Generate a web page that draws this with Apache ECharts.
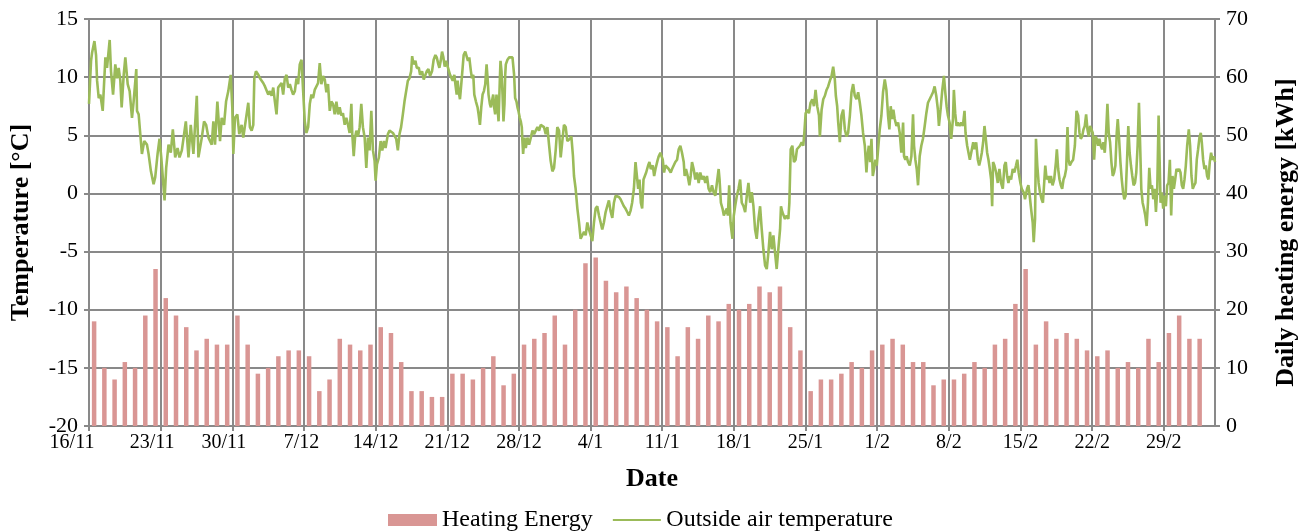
<!DOCTYPE html>
<html>
<head>
<meta charset="utf-8">
<script src="https://cdn.jsdelivr.net/npm/echarts@6/dist/echarts.min.js"></script>
<style>
html,body{margin:0;padding:0;background:#fff;}
#chart{width:1309px;height:532px;}
</style>
</head>
<body>
<div id="chart"></div>
<script>
// Tick labels, one every 7 days starting 16/11
const tickLabels = ['16/11','23/11','30/11','7/12','14/12','21/12','28/12','4/1','11/1','18/1','25/1','1/2','8/2','15/2','22/2','29/2'];

// Daily heating energy [kWh], one value per day starting 16/11
const heatingEnergy = [
  18,10,8,11,10,19,27,22,19,17,13,15,14,14,19,14,9,10,12,13,13,12,6,8,15,14,13,14,
  17,16,11,6,6,5,5,9,9,8,10,12,7,9,14,15,16,19,14,20,28,29,25,23,24,22,20,
  18,17,12,17,15,19,18,21,20,21,24,23,24,17,13,6,8,8,9,11,10,13,14,15,14,11,11,
  7,8,8,9,11,10,14,15,21,27,14,18,15,16,15,13,12,13,10,11,10,15,11,16,19,15,15
];

// Outside air temperature readings: [days since 16/11, temperature °C]
const outsideTemp = [
[0,7.7],[0.2,11.4],[0.3,12.1],[0.53,13.1],[0.69,11.9],[0.79,9.7],[0.95,8.2],[1.11,8.5],[1.34,7.1],[1.6,11.7],
[1.76,10.8],[2.02,13.2],[2.15,10.5],[2.35,8.5],[2.57,11.1],[2.74,9.9],[2.9,10.8],[3.06,9.7],[3.19,7.4],[3.39,10.2],
[3.55,11.7],[3.78,9.4],[3.97,8.8],[4.2,6.5],[4.36,7.9],[4.62,10.7],[4.69,7.1],[4.85,6.8],[5.01,5.1],[5.17,3.4],
[5.4,4.5],[5.66,4.2],[5.82,3.4],[6.05,1.9],[6.31,0.8],[6.47,1.4],[6.7,3.4],[6.89,4.7],[7.06,3.1],[7.38,-0.6],
[7.54,2.2],[7.77,4.2],[7.99,3.5],[8.19,5.5],[8.42,3.1],[8.65,3.9],[8.84,3.1],[9.07,3.7],[9.46,6.2],[9.72,3.1],
[9.94,5.9],[10.2,3.4],[10.53,8.4],[10.69,3.1],[11.02,4.8],[11.24,6.2],[11.44,5.9],[11.67,4.8],[11.99,4.2],[12.15,6.2],
[12.31,4.2],[12.54,7.9],[12.8,4.5],[12.96,6.5],[13.19,5.9],[13.39,7.9],[13.61,8.8],[13.84,10.2],[14.0,7.4],[14.1,3.4],
[14.26,6.5],[14.49,6.8],[14.68,5.1],[14.91,5.9],[15.07,4.8],
[15.56,7.8],[15.72,5.7],[15.89,5.4],[16.05,5.9],[16.15,9.9],[16.31,10.5],[16.54,10.2],[16.7,9.9],[16.86,9.8],[17.02,9.5],
[17.19,9.2],[17.35,9.1],[17.51,8.5],[17.67,8.8],[17.84,8.4],[18.0,9.1],[18.16,7.9],[18.32,6.8],[18.48,9.1],[18.65,9.2],
[18.81,9.5],[18.97,8.5],[19.13,9.9],[19.3,10.2],[19.46,9.1],[19.62,9.4],[19.78,8.9],[19.94,8.5],[20.11,8.8],[20.27,9.9],
[20.43,9.4],[20.59,11.1],[20.76,11.5],[20.92,8.8],[21.08,6.2],[21.24,5.2],[21.41,5.7],[21.57,7.7],[21.73,8.5],[21.89,8.2],
[22.05,8.9],[22.22,8.8],[22.38,9.5],[22.54,11.2],[22.7,9.4],[22.87,10.1],[23.03,9.8],[23.19,8.7],[23.35,9.4],[23.52,7.1],
[23.68,7.9],[23.84,7.7],[24.0,6.8],[24.17,7.9],[24.33,6.8],[24.49,7.4],[24.65,6.7],[24.81,6.9],[24.98,5.9],[25.14,6.5],
[25.3,5.9],[25.46,5.2],[25.63,7.7],[25.72,5.1],[25.86,3.2],[25.99,4.8],[26.12,5.4],[26.28,4.9],[26.44,5.7],[26.6,7.7],
[26.76,5.7],[26.93,4.8],[27.09,2.2],[27.25,4.8],[27.41,3.7],[27.58,7.1],[27.74,3.7],[27.9,2.8],[28.0,1.1],[28.13,2.5],
[28.32,3.1],[28.49,4.5],[28.65,3.7],[28.81,4.5],[28.97,3.9],[29.2,5.1],[29.36,5.4],[29.69,5.2],[29.85,5.1],[30.01,4.7],
[30.17,3.7],[30.33,5.1],[30.49,5.7],[30.66,6.8],[30.82,7.9],
[31.15,9.7],[31.31,9.9],[31.47,10.5],[31.57,11.8],[31.7,11.1],[31.89,11.4],[32.02,10.8],[32.22,10.8],[32.34,10.2],[32.54,10.5],
[32.7,9.8],[32.83,9.7],[32.99,10.5],[33.16,10.7],[33.32,10.1],[33.51,10.5],[33.67,11.5],[33.84,11.9],[33.97,11.7],[34.13,11.1],
[34.23,10.8],[34.36,11.4],[34.49,12.2],[34.62,11.7],[34.75,10.9],[34.88,11.4],[35.04,10.9],[35.14,10.8],[35.27,10.2],[35.43,10.1],
[35.53,9.7],[35.69,10.2],[35.79,9.4],[35.92,8.5],[36.01,9.7],[36.11,8.8],[36.24,8.1],[36.34,9.1],[36.5,10.8],[36.6,11.9],
[36.76,12.2],[36.89,12.1],[37.02,11.4],[37.15,11.7],[37.31,10.5],[37.41,9.9],[37.54,10.2],[37.64,8.5],[37.8,7.9],[37.96,7.4],
[38.06,6.8],[38.19,5.9],[38.32,7.4],[38.45,8.5],[38.58,8.8],[38.71,9.4],[38.84,11.1],[38.94,9.9],[39.03,8.5],[39.16,7.7],
[39.26,7.4],[39.36,7.9],[39.49,8.5],[39.58,7.4],[39.68,6.8],[39.81,8.5],[39.91,7.4],[40.01,6.2],[40.14,9.9],[40.2,11.4],
[40.3,10.5],[40.4,8.5],[40.49,6.2],[40.59,7.7],[40.66,10.2],[40.72,11.1],[40.88,11.5],[41.05,11.7],[41.21,11.8],[41.37,11.7],
[41.53,10.2],[41.63,8.2],[41.76,7.9],[41.86,7.4],[41.95,7.1],[42.08,6.5],[42.18,6.2],[42.28,5.7],[42.34,4.5],[42.41,3.4],
[42.54,4.8],[42.67,3.9],[42.83,4.8],[42.99,4.2],[43.16,4.8],[43.32,5.4],[43.48,5.1],[43.64,5.4],[43.81,5.7],[43.97,5.4],
[44.13,5.9],[44.29,5.8],[44.45,5.7],[44.62,5.1],[44.78,5.7],[44.94,4.2],[45.1,2.8],[45.27,1.9],[45.43,2.2],[45.59,3.7],
[45.75,5.7],[45.92,5.4],[46.08,3.1],[46.24,4.5],[46.4,5.9],[46.57,5.7],[46.73,4.5],
[46.99,4.7],[47.12,4.9],[47.28,3.2],[47.38,1.5],[47.54,0.4],[47.71,-1.3],[47.87,-2.5],[48.03,-3.9],[48.19,-3.9],[48.36,-3.3],
[48.52,-3.6],[48.68,-2.5],[48.84,-3.1],[49.01,-3.6],[49.17,-4.1],[49.33,-2.5],[49.49,-1.3],[49.65,-1.1],[49.82,-1.9],[49.98,-2.5],
[50.14,-3.1],[50.3,-2.5],[50.47,-1.6],[50.63,-1.1],[50.79,-0.6],[50.95,-1.5],[51.12,-2.1],[51.28,-0.8],[51.44,-0.2],[51.6,-0.1],
[51.77,-0.3],[51.93,-0.5],[52.09,-0.8],[52.25,-1.1],[52.41,-1.3],[52.58,-1.6],[52.74,-1.9],[52.9,-1.5],[53.06,-0.8],[53.23,0.4],
[53.39,2.7],[53.49,1.8],[53.65,0.4],[53.78,1.2],[53.91,-0.8],[54.04,-1.3],[54.17,1.2],[54.3,1.5],[54.43,1.8],[54.62,2.4],
[54.75,2.7],[54.88,2.1],[55.08,2.4],[55.21,1.5],[55.34,2.1],[55.53,2.8],[55.66,3.2],[55.82,3.5],[55.92,3.4],[56.05,2.9],
[56.18,1.8],[56.31,2.4],[56.47,2.4],[56.64,2.1],[56.83,1.8],[56.96,2.1],[57.12,2.2],[57.28,2.7],[57.45,2.9],[57.61,3.8],
[57.77,4.1],[57.93,3.5],[58.1,2.7],[58.19,1.5],[58.32,2.1],[58.49,1.5],[58.65,0.7],[58.78,1.5],[58.91,2.7],[59.07,2.1],
[59.23,1.2],[59.4,1.8],[59.56,0.9],[59.72,1.8],[59.88,1.2],[60.04,1.5],[60.21,0.9],[60.37,1.5],[60.53,0.4],[60.69,0.1],
[60.86,0.7],[61.02,0.1],[61.18,-0.2],[61.34,0.9],[61.51,2.1],[61.6,1.2],[61.73,-0.8],[61.89,-1.3],[62.02,-1.9],[62.15,-1.6],
[62.31,-1.3],[62.41,-1.9],[62.54,0.7],[62.67,-2.5],[62.86,-3.9],[62.99,-1.9],[63.12,-1.1],[63.29,-0.2],[63.45,0.4],[63.61,1.2],
[63.77,-0.8],[63.94,-1.1],[64.1,-1.6],[64.26,-0.2],[64.42,0.9],[64.59,-0.8],[64.75,0.1],[64.91,-1.1],[65.07,-3.1],[65.23,-3.9],
[65.4,-2.2],[65.56,-1.1],[65.72,-3.1],[65.88,-4.8],[66.05,-6.2],[66.21,-6.5],[66.37,-5.1],[66.53,-3.3],[66.7,-4.8],[66.86,-3.6],
[67.02,-5.1],[67.18,-6.5],[67.34,-4.8],[67.51,-3.1],[67.6,-1.1],[67.73,-1.6],[67.86,-1.9],[67.99,-2.2],[68.16,-1.9],[68.32,-2.2],
[68.42,-0.8],[68.55,3.8],[68.71,4.1],[68.87,2.7],[69.03,2.9],[69.16,3.8],[69.29,3.8],[69.46,4.1],[69.62,4.4],[69.78,4.1],
[69.88,5.2],[70.01,6.9],[70.17,7.2],[70.33,6.9],[70.49,7.8],[70.66,8.1],[70.82,7.5],[70.98,8.9],[71.14,7.5],[71.31,6.7],
[71.4,4.9],[71.57,7.2],[71.73,8.1],[71.89,8.4],[72.05,8.9],[72.21,9.2],[72.38,9.7],[72.54,10.1],[72.7,10.9],[72.86,9.8],
[72.96,8.4],[73.09,7.5],[73.19,6.1],[73.35,4.4],[73.51,6.7],[73.68,7.2],[73.84,5.5],[74.0,4.9],[74.16,5.2],[74.33,6.7],
[74.49,8.7],[74.65,9.4],[74.81,8.4],[74.97,8.1],[75.14,8.7],[75.3,7.8],[75.46,6.7],[75.62,5.2],[75.79,4.1],[75.95,1.8],
[76.05,3.2],[76.18,4.1],[76.31,2.7],[76.44,4.7],[76.57,1.5],[76.7,2.1],[76.83,2.9],[76.96,2.4],[77.09,3.8],[77.25,5.5],
[77.41,6.7],[77.57,8.7],[77.74,9.8],[77.9,8.9],[78.06,6.7],[78.19,5.5],[78.32,7.5],[78.45,6.4],[78.58,7.2],[78.71,6.4],
[78.88,5.8],[79.04,6.1],[79.2,5.2],[79.36,3.5],[79.53,6.1],[79.62,3.2],[79.75,2.9],[79.88,3.2],[80.01,2.7],[80.18,2.4],
[80.34,3.2],[80.5,6.8],[80.6,4.1],[80.73,2.9],[80.86,2.1],[80.99,0.7],[81.15,3.2],[81.31,4.1],[81.47,4.7],[81.64,5.8],
[81.8,6.9],[81.96,7.8],[82.12,7.9],[82.29,8.4],[82.45,8.7],[82.61,9.2],[82.77,8.4],[82.93,7.2],[83.03,5.8],[83.19,7.2],
[83.36,8.9],[83.52,10.1],[83.65,8.7],[83.78,7.5],[83.91,6.7],[84.07,6.1],[84.23,4.7],[84.4,6.4],[84.49,8.9],[84.62,6.9],
[84.75,5.8],[84.88,6.1],[85.05,5.8],[85.21,6.1],[85.37,5.8],[85.53,7.1],[85.63,5.2],[85.79,4.1],[85.92,3.5],[86.05,2.9],
[86.25,3.8],[86.38,4.4],[86.51,3.8],[86.67,4.4],[86.83,2.9],[86.96,2.4],[87.09,2.9],[87.22,3.5],[87.35,4.4],[87.48,5.8],
[87.61,4.7],[87.74,3.5],[87.87,2.9],[88.0,2.1],[88.13,1.2],[88.23,-1.1],[88.32,2.7],[88.45,2.4],[88.62,1.8],[88.78,0.9],
[88.94,2.1],[89.1,0.9],[89.27,0.4],[89.43,2.4],[89.56,2.7],[89.69,1.5],[89.82,0.9],[89.95,1.5],[90.08,1.2],[90.24,2.1],
[90.4,1.8],[90.56,2.4],[90.69,2.9],[90.82,1.8],[90.99,0.9],[91.12,0.4],[91.31,0.1],[91.44,-0.5],[91.64,0.4],[91.77,0.7],
[91.9,-0.2],[92.03,-1.3],[92.19,-2.5],[92.29,-4.2],[92.42,-2.2],[92.51,4.7],[92.64,2.4],[92.77,0.9],[92.9,0.1],[93.06,-0.5],
[93.19,-0.8],
[93.42,2.4],[93.55,1.2],[93.71,1.5],[93.84,0.9],[93.97,1.5],[94.13,0.7],[94.29,1.2],[94.46,2.7],[94.55,3.8],[94.68,2.1],
[94.81,1.2],[94.94,0.7],[95.07,0.4],[95.2,1.2],[95.33,1.5],[95.46,2.1],[95.59,5.7],[95.69,2.9],[95.82,2.4],[95.98,2.7],
[96.14,2.9],[96.31,4.1],[96.47,7.1],[96.63,6.7],[96.76,5.2],[96.89,4.7],[97.02,4.9],[97.15,5.5],[97.28,5.8],[97.41,6.8],
[97.54,5.5],[97.67,4.9],[97.8,5.8],[97.93,5.5],[98.06,5.2],[98.19,2.9],[98.32,4.9],[98.45,4.7],[98.58,4.1],[98.71,4.7],
[98.84,4.1],[98.97,3.8],[99.1,4.4],[99.23,3.5],[99.36,5.2],[99.49,7.7],[99.62,5.2],[99.75,4.4],[99.88,2.7],[100.01,1.5],
[100.14,1.8],[100.27,2.4],[100.4,5.2],[100.5,6.4],[100.63,4.7],[100.76,2.7],[100.89,1.2],[101.02,0.1],[101.14,-0.5],[101.27,-0.2],
[101.4,2.7],[101.53,5.8],[101.66,3.5],[101.79,2.4],[101.92,1.5],[102.05,0.7],[102.18,0.9],[102.31,1.8],[102.44,4.1],[102.57,7.8],
[102.67,4.7],[102.8,0.4],[102.93,-0.8],[103.06,-1.3],[103.19,-1.9],[103.32,-2.8],[103.45,-0.8],[103.58,2.2],[103.71,0.4],[103.84,0.7],
[103.97,-0.5],[104.1,0.4],[104.23,-1.6],[104.36,0.4],[104.49,6.7],[104.59,2.9],[104.68,-0.8],[104.81,0.1],[104.94,-1.3],[105.07,-0.2],
[105.2,-1.1],[105.33,0.7],[105.46,0.9],[105.59,2.9],[105.72,-1.9],[105.85,1.5],[105.98,0.4],[106.11,1.2],[106.24,2.1],[106.37,1.9],
[106.5,2.1],[106.63,1.8],[106.76,0.7],[106.89,0.4],[107.02,1.2],[107.15,2.4],[107.28,4.1],[107.44,5.5],[107.57,4.1],[107.7,1.5],
[107.83,0.4],[107.96,0.7],[108.09,0.9],[108.22,2.9],[108.35,3.8],[108.48,4.8],[108.61,5.2],[108.71,4.4],[108.84,2.9],[108.97,2.1],
[109.1,2.4],[109.23,1.5],[109.36,1.2],[109.49,2.7],[109.62,3.5],[109.75,2.9],[109.88,3.2],[110,2.7]
];

const serif = "'Liberation Serif','Times New Roman',serif";
const gridColor = '#898989';
const lineColor = '#9bbb59';
const labelFont = {fontFamily: serif, fontSize: 20, color: '#000'};

const chart = echarts.init(document.getElementById('chart'), null, {renderer: 'canvas'});
chart.setOption({
  animation: false,
  backgroundColor: '#fff',
  textStyle: {fontFamily: serif, color: '#000'},
  grid: {left: 87, right: 94, top: 19, bottom: 106, containLabel: false},
  legend: {
    left: 383, top: 503,
    itemWidth: 49, itemHeight: 12, itemGap: 20,
    textStyle: {fontFamily: serif, fontSize: 24, color: '#000'},
    data: [
      {name: 'Heating Energy', icon: 'rect'},
      {name: 'Outside air temperature', icon: 'path://M0,0 M0,12 M0,5 L48,5 L48,7 L0,7 Z'}
    ]
  },
  xAxis: {
    type: 'value', min: 0, max: 110, interval: 7,
    name: 'Date', nameLocation: 'middle', nameGap: 40,
    nameTextStyle: {fontFamily: serif, fontSize: 26, fontWeight: 'bold', color: '#000'},
    axisLine: {show: true, onZero: false, lineStyle: {color: gridColor, width: 2}},
    axisTick: {show: true, length: 5, lineStyle: {color: gridColor, width: 2}},
    splitLine: {show: true, lineStyle: {color: gridColor, width: 2}},
    axisLabel: {
      fontFamily: serif, fontSize: 20, color: '#000', margin: 7,
      showMaxLabel: false,
      formatter: function (v) {
        if (v % 7 !== 0 || tickLabels[v / 7] === undefined) return '';
        const k = v / 7;
        if (k === 0) return '{s0|' + tickLabels[k] + '}';
        if (k === 1 || k === 2) return '{s1|' + tickLabels[k] + '}';
        if (k === 3) return '{s2|' + tickLabels[k] + '}';
        return tickLabels[k];
      },
      rich: {
        s0: Object.assign({padding: [0, 34, 0, 0]}, labelFont),
        s1: Object.assign({padding: [0, 17, 0, 0]}, labelFont),
        s2: Object.assign({padding: [0, 5, 0, 0]}, labelFont)
      }
    }
  },
  yAxis: [
    {
      type: 'value', min: -20, max: 15, interval: 5,
      name: 'Temperature [°C]', nameLocation: 'middle', nameRotate: 90, nameGap: 55,
      nameTextStyle: {fontFamily: serif, fontSize: 26, fontWeight: 'bold', color: '#000'},
      axisLine: {show: true, onZero: false, lineStyle: {color: gridColor, width: 2}},
      axisTick: {show: true, length: 5, lineStyle: {color: gridColor, width: 2}},
      splitLine: {show: true, lineStyle: {color: gridColor, width: 2}},
      axisLabel: {fontFamily: serif, fontSize: 22, color: '#000', margin: 11}
    },
    {
      type: 'value', min: 0, max: 70, interval: 10, position: 'right',
      name: 'Daily heating energy [kWh]', nameLocation: 'middle', nameRotate: 90, nameGap: 58,
      nameTextStyle: {fontFamily: serif, fontSize: 26, fontWeight: 'bold', color: '#000', padding: [0, 20, 0, 0]},
      axisLine: {show: true, onZero: false, lineStyle: {color: gridColor, width: 2}},
      axisTick: {show: true, length: 5, lineStyle: {color: gridColor, width: 2}},
      splitLine: {show: false},
      axisLabel: {fontFamily: serif, fontSize: 22, color: '#000', margin: 11}
    }
  ],
  series: [
    {
      name: 'Heating Energy', type: 'bar', yAxisIndex: 1,
      barWidth: 4.5,
      itemStyle: {color: '#d99694'},
      data: heatingEnergy.map((v, i) => [i + 0.5, v])
    },
    {
      name: 'Outside air temperature', type: 'line', yAxisIndex: 0,
      showSymbol: false, symbol: 'none',
      lineStyle: {color: lineColor, width: 2.6},
      itemStyle: {color: lineColor},
      data: outsideTemp
    }
  ]
});
</script>
</body>
</html>
